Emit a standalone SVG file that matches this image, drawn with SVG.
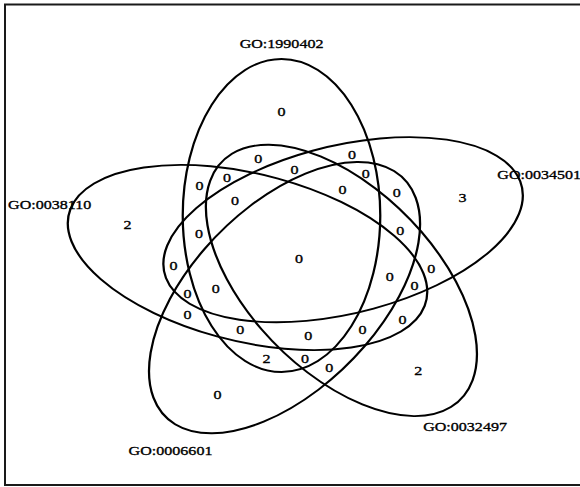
<svg xmlns="http://www.w3.org/2000/svg" width="580" height="487" viewBox="0 0 580 487">
<style>
  .set { fill: none; stroke: #000; stroke-width: 1.9; vector-effect: non-scaling-stroke; }
  .frame { fill: none; stroke: #1a1a1a; stroke-width: 2; }
  text { font-family: "Liberation Serif", "Times New Roman", serif; font-size: 13.5px; fill: #000; stroke: #000; stroke-width: 0.35; }
  .n { text-anchor: middle; }
  .lab { text-anchor: middle; }
</style>
<defs>
  <ellipse id="shape" cx="-14.62" cy="-40.65" rx="83" ry="156.5"/>
</defs>
<rect class="frame" x="5" y="4.5" width="600" height="480.5"/>
<g id="sets" transform="translate(298.9 256.15) scale(1.19 1)">
  <g id="set-GO1990402"><use href="#shape" class="set"/></g>
  <g id="set-GO0038110"><use href="#shape" class="set" transform="rotate(-72)"/></g>
  <g id="set-GO0006601"><use href="#shape" class="set" transform="rotate(-144)"/></g>
  <g id="set-GO0032497"><use href="#shape" class="set" transform="rotate(144)"/></g>
  <g id="set-GO0034501"><use href="#shape" class="set" transform="translate(3 0) rotate(72)"/></g>
</g>
<g id="labels" transform="scale(1.19 1)">
  <text id="label-GO1990402" class="lab" x="236.6" y="48.5">GO:1990402</text>
  <text id="label-GO0038110" class="lab" x="41.8" y="209">GO:0038110</text>
  <text id="label-GO0034501" x="417.9" y="179">GO:0034501</text>
  <text id="label-GO0032497" class="lab" x="390.8" y="431">GO:0032497</text>
  <text id="label-GO0006601" class="lab" x="143.3" y="455">GO:0006601</text>
</g>
<g id="counts" transform="scale(1.19 1)">
  <text class="n" x="236.6" y="116.2">0</text>
  <text class="n" x="217.1" y="163.5">0</text>
  <text class="n" x="295.8" y="159.5">0</text>
  <text class="n" x="190.8" y="182.2">0</text>
  <text class="n" x="247.5" y="174.5">0</text>
  <text class="n" x="307.3" y="177.8">0</text>
  <text class="n" x="167.6" y="190">0</text>
  <text class="n" x="287.9" y="194.5">0</text>
  <text class="n" x="333.4" y="196.8">0</text>
  <text class="n" x="197.6" y="205.5">0</text>
  <text class="n" x="107.2" y="229.5">2</text>
  <text class="n" x="388.6" y="202.5">3</text>
  <text class="n" x="167.2" y="237.8">0</text>
  <text class="n" x="336.3" y="235">0</text>
  <text class="n" x="251.3" y="262.8">0</text>
  <text class="n" x="145.9" y="270.2">0</text>
  <text class="n" x="362.4" y="273.5">0</text>
  <text class="n" x="327.6" y="281.2">0</text>
  <text class="n" x="348.3" y="289.8">0</text>
  <text class="n" x="157.6" y="298.5">0</text>
  <text class="n" x="181.3" y="293.5">0</text>
  <text class="n" x="157.6" y="319">0</text>
  <text class="n" x="338.2" y="323.8">0</text>
  <text class="n" x="201.9" y="334.3">0</text>
  <text class="n" x="259.0" y="340.2">0</text>
  <text class="n" x="304.7" y="334.3">0</text>
  <text class="n" x="223.9" y="363.5">2</text>
  <text class="n" x="256.4" y="363.2">0</text>
  <text class="n" x="276.7" y="371.8">0</text>
  <text class="n" x="351.4" y="375.2">2</text>
  <text class="n" x="182.7" y="398.8">0</text>
</g>
</svg>
